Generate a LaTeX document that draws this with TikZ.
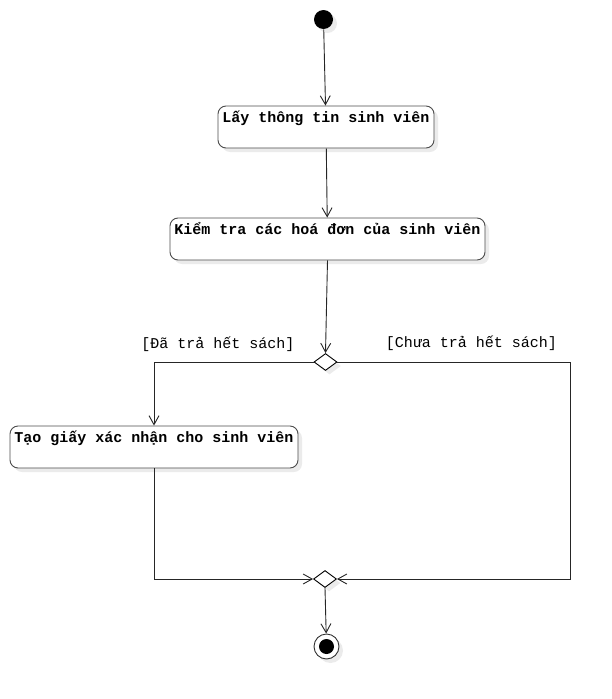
\documentclass[tikz,border=0pt]{standalone}
\usepackage{fontspec}
\newfontfamily\monofont{Liberation Mono}
\usetikzlibrary{arrows.meta,shapes.geometric,shadows}
\begin{document}
\begin{tikzpicture}[x=1pt,y=-1pt,
  line width=0.9pt,
  shd/.style={drop shadow={shadow xshift=4pt,shadow yshift=-4pt,fill=black!8,opacity=1}},
  actbox/.style={draw=black!70,fill=white,rounded corners=8pt,minimum height=42pt,inner sep=0pt,shd},
  acttext/.style={font=\monofont\bfseries\fontsize{15}{18}\selectfont,inner sep=0pt,anchor=base},
  guard/.style={font=\monofont\fontsize{15}{18}\selectfont,inner sep=0pt,anchor=base},
  dec/.style={diamond,draw=black,fill=white,minimum width=23pt,minimum height=17pt,inner sep=0pt,shd},
  flow/.style={draw=black!85,-{Straight Barb[length=9pt,width=10pt,line width=0.9pt]}},
  seg/.style={draw=black!85}
]
\useasboundingbox (0,0) rectangle (611,699);
\node[circle,fill=black,minimum size=19pt,inner sep=0pt,shd] (s) at (323.5,19.5) {};
\node[actbox,minimum width=216pt] (b1) at (326,127) {};
\node[acttext] (t1) at ([yshift=-17pt]b1.north) {Lấy thông tin sinh viên};
\node[actbox,minimum width=315pt] (b2) at (327.5,239) {};
\node[acttext] (t2) at ([yshift=-17pt]b2.north) {Kiểm tra các hoá đơn của sinh viên};
\node[dec] (d1) at (325.5,362) {};
\node[actbox,minimum width=288pt] (b3) at (154,447) {};
\node[acttext] (t3) at ([yshift=-17pt]b3.north) {Tạo giấy xác nhận cho sinh viên};
\node[dec] (m) at (325,579) {};
\node[circle,draw=black!80,fill=white,minimum size=25pt,inner sep=0pt,shd] (e) at (326.5,646.5) {};
\node[circle,fill=black,minimum size=15pt,inner sep=0pt] (ei) at (e.center) {};
\node[guard] (g1) at (218,348) {[Đã trả hết sách]};
\node[guard] (g2) at (471.5,347) {[Chưa trả hết sách]};
\coordinate (c1) at (570,362);
\path[flow] (s) -- (b1);
\path[flow] (b1) -- (b2);
\path[flow] (b2.south) -- (d1.north);
\path[flow] (d1.west) -| (b3.north);
\path[flow] (b3.south) |- (m.west);
\path[seg] (d1.east) -- (c1);
\path[flow] (c1) |- (m.east);
\path[flow] (m.south) -- (e);
\end{tikzpicture}
\end{document}
